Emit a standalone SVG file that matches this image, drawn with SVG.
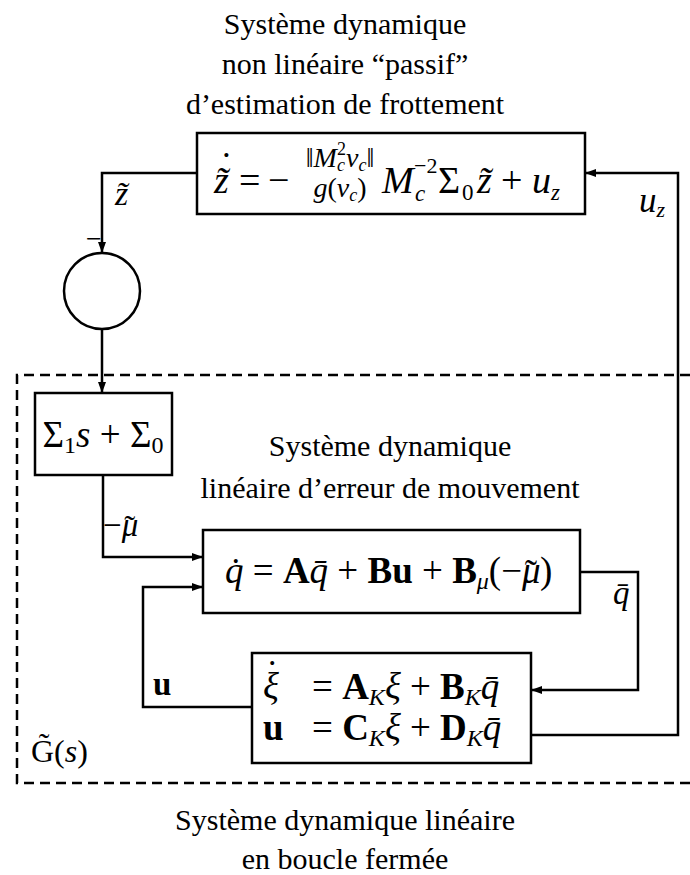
<svg xmlns="http://www.w3.org/2000/svg" width="690" height="875" viewBox="0 0 690 875">
<style>
text{font-family:"Liberation Serif","Times New Roman",serif;fill:#000}
.t{font-size:30px;text-anchor:middle}
.i{font-style:italic}
.n{font-style:normal}
.b{font-weight:bold}
.box{fill:#fff;stroke:#000;stroke-width:2.5}
.ar{fill:none;stroke:#000;stroke-width:2.5;marker-end:url(#ah)}
.dash{fill:none;stroke:#000;stroke-width:2.5;stroke-dasharray:10 6}
</style>
<defs>
<marker id="ah" markerUnits="userSpaceOnUse" markerWidth="12" markerHeight="10" refX="11" refY="5" orient="auto">
<path d="M0,1 L11,5 L0,9 Z" fill="#000"/>
</marker>
</defs>

<g id="titles">
<text class="t" x="345" y="34">Système dynamique</text>
<text class="t" x="345" y="74">non linéaire “passif”</text>
<text class="t" x="345" y="114">d’estimation de frottement</text>
<text class="t" x="390" y="456">Système dynamique</text>
<text class="t" x="390" y="498">linéaire d’erreur de mouvement</text>
<text class="t" x="345" y="830">Système dynamique linéaire</text>
<text class="t" x="345" y="869">en boucle fermée</text>
</g>

<g id="closed-loop-frame">
<path class="dash" d="M690,375 H17 V783 H690"/>
<text x="31" y="762" style="font-size:32px">G̃(<tspan class="i">s</tspan>)</text>
</g>

<g id="connectors">
<path class="ar" d="M197,173 H102 V253"/>
<path class="ar" d="M102,329 V393"/>
<path class="ar" d="M103,475 V557 H203"/>
<path class="ar" d="M580,572 H638 V690 H531"/>
<path class="ar" d="M252,707 H143 V587 H203"/>
<path class="ar" d="M531,735 H678 V173 H585"/>
<text class="i" x="115" y="205" style="font-size:34px">z̃</text>
<text x="86" y="248" style="font-size:28px">−</text>
<text class="i" x="639" y="212" style="font-size:35px">u<tspan style="font-size:22px" dy="5">z</tspan></text>
<text x="103" y="536" style="font-size:33px">−<tspan class="i">μ</tspan><tspan dx="-14" dy="3">˜</tspan></text>
<text class="i" x="613" y="604" style="font-size:33px">q̄</text>
<text class="b" x="153" y="695" style="font-size:33px">u</text>
</g>

<g id="sum">
<circle class="box" cx="102" cy="291" r="38"/>
</g>

<g id="friction-estimator">
<rect class="box" x="197" y="133" width="388" height="81"/>
<text class="i" x="214" y="193" style="font-size:38px">z̃</text>
<text x="220" y="178" style="font-size:38px">˙</text>
<text x="239" y="193" style="font-size:38px">=</text>
<text x="268" y="193" style="font-size:38px">−</text>
<text class="i" x="340" y="167" style="font-size:28px;text-anchor:middle"><tspan class="n">‖</tspan>M<tspan style="font-size:18px" dy="4">c</tspan><tspan class="n" style="font-size:18px" dx="-8" dy="-16">2</tspan><tspan dy="12">v</tspan><tspan style="font-size:18px" dy="4">c</tspan><tspan class="n" dy="-4">‖</tspan></text>
<text class="i" x="340" y="197" style="font-size:28px;text-anchor:middle">g<tspan class="n">(</tspan>v<tspan style="font-size:18px" dy="4">c</tspan><tspan class="n" dy="-4">)</tspan></text>
<text style="font-size:38px" y="193"><tspan class="i" x="382">M</tspan><tspan class="i" x="415" y="201" style="font-size:23px">c</tspan><tspan x="414" y="173" style="font-size:22px">−2</tspan><tspan x="438" y="193">Σ</tspan><tspan x="462" y="200" style="font-size:23px">0</tspan><tspan class="i" x="477" y="193">z̃</tspan><tspan x="501">+</tspan><tspan class="i" x="532">u</tspan><tspan class="i" x="551" y="200" style="font-size:23px">z</tspan></text>
</g>

<g id="sigma-filter">
<rect class="box" x="35" y="393" width="137" height="82"/>
<text x="103" y="447" style="font-size:37px;text-anchor:middle">Σ<tspan style="font-size:24px" dy="6">1</tspan><tspan class="i" dy="-6">s</tspan> + Σ<tspan style="font-size:24px" dy="6">0</tspan></text>
</g>

<g id="motion-error">
<rect class="box" x="203" y="530" width="377" height="83"/>
<text x="225" y="583" style="font-size:37px"><tspan class="i">q̇</tspan> = <tspan class="b">A</tspan><tspan class="i">q̄</tspan> + <tspan class="b">Bu</tspan> + <tspan class="b">B</tspan><tspan class="i" style="font-size:24px" dy="6">μ</tspan><tspan dy="-6">(−</tspan><tspan class="i">μ</tspan><tspan dx="-16" dy="3">˜</tspan><tspan dx="3" dy="-3">)</tspan></text>
</g>

<g id="controller">
<rect class="box" x="252" y="653" width="279" height="110"/>
<text x="263" y="699" style="font-size:37px"><tspan class="i">ξ</tspan></text>
<text x="266" y="686" style="font-size:37px">˙</text>
<text x="312" y="699" style="font-size:37px">= <tspan class="b">A</tspan><tspan class="i" style="font-size:24px" dy="6">K</tspan><tspan class="i" dy="-6">ξ</tspan> + <tspan class="b">B</tspan><tspan class="i" style="font-size:24px" dy="6">K</tspan><tspan class="i" dy="-6">q̄</tspan></text>
<text class="b" x="263" y="740" style="font-size:37px">u</text>
<text x="312" y="740" style="font-size:37px">= <tspan class="b">C</tspan><tspan class="i" style="font-size:24px" dy="6">K</tspan><tspan class="i" dy="-6">ξ</tspan> + <tspan class="b">D</tspan><tspan class="i" style="font-size:24px" dy="6">K</tspan><tspan class="i" dy="-6">q̄</tspan></text>
</g>
</svg>
